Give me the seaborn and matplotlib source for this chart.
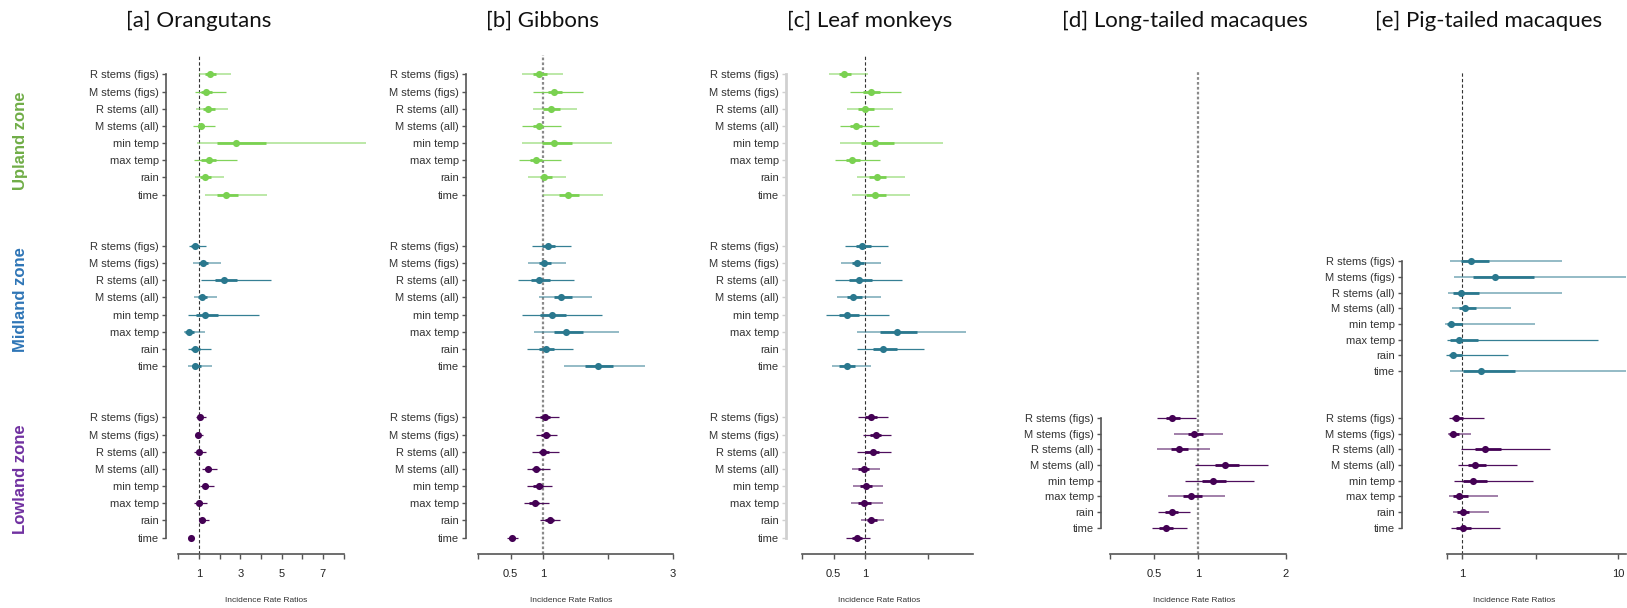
import numpy as np
import pandas as pd
import matplotlib
matplotlib.use("Agg")
import matplotlib.pyplot as plt
import seaborn as sns
from matplotlib.ticker import NullLocator

# ---------------- data ----------------
ROWS = ["R stems (figs)", "M stems (figs)", "R stems (all)", "M stems (all)",
        "min temp", "max temp", "rain", "time"]
ZONES = ["Upland zone", "Midland zone", "Lowland zone"]
TITLES = ["[a] Orangutans", "[b] Gibbons", "[c] Leaf monkeys",
          "[d] Long-tailed macaques", "[e] Pig-tailed macaques"]
XLABEL = "Incidence Rate Ratios"

# [a] Orangutans
a_up_est = [1.55, 1.36, 1.44, 1.10, 2.81, 1.47, 1.31, 2.29]
a_up_lo95 = [1.00, 0.79, 0.87, 0.72, 0.90, 0.76, 0.79, 1.28]
a_up_hi95 = [2.57, 2.33, 2.42, 1.78, 9.40, 2.84, 2.21, 4.28]
a_up_lo50 = [1.28, 1.11, 1.19, 0.95, 1.87, 1.11, 1.03, 1.87]
a_up_hi50 = [1.84, 1.65, 1.76, 1.23, 4.24, 1.84, 1.60, 2.89]

a_mid_est = [0.79, 1.19, 2.21, 1.15, 1.29, 0.51, 0.82, 0.82]
a_mid_lo95 = [0.51, 0.71, 1.11, 0.76, 0.47, 0.26, 0.47, 0.47]
a_mid_hi95 = [1.36, 2.08, 4.51, 1.87, 3.91, 1.28, 1.60, 1.63]
a_mid_lo50 = [0.60, 1.00, 1.76, 0.97, 0.87, 0.30, 0.63, 0.66]
a_mid_hi50 = [1.00, 1.44, 2.84, 1.39, 1.92, 0.76, 1.03, 1.11]

a_low_est = [1.03, 0.97, 0.98, 1.44, 1.31, 1.00, 1.16, 0.60]
a_low_lo95 = [0.84, 0.81, 0.76, 1.16, 1.03, 0.74, 0.98, 0.47]
a_low_hi95 = [1.32, 1.19, 1.32, 1.87, 1.71, 1.39, 1.47, 0.74]
a_low_lo50 = [0.93, 0.90, 0.88, 1.30, 1.18, 0.88, 1.06, 0.53]
a_low_hi50 = [1.13, 1.05, 1.10, 1.60, 1.45, 1.13, 1.27, 0.66]

# [b] Gibbons
b_up_est = [0.94, 1.17, 1.12, 0.93, 1.17, 0.89, 1.02, 1.38]
b_up_lo95 = [0.67, 0.85, 0.84, 0.68, 0.68, 0.63, 0.77, 1.00]
b_up_hi95 = [1.31, 1.61, 1.52, 1.27, 2.06, 1.27, 1.35, 1.92]
b_up_lo50 = [0.84, 1.08, 1.00, 0.85, 0.98, 0.80, 0.95, 1.24]
b_up_hi50 = [1.06, 1.29, 1.26, 1.00, 1.44, 0.99, 1.13, 1.56]

b_mid_est = [1.08, 1.01, 0.93, 1.28, 1.13, 1.36, 1.05, 1.84]
b_mid_lo95 = [0.83, 0.77, 0.61, 0.94, 0.68, 0.86, 0.76, 1.32]
b_mid_hi95 = [1.43, 1.35, 1.48, 1.76, 1.91, 2.17, 1.46, 2.57]
b_mid_lo50 = [0.98, 0.93, 0.81, 1.17, 0.96, 1.17, 0.94, 1.65]
b_mid_hi50 = [1.19, 1.12, 1.11, 1.44, 1.36, 1.61, 1.17, 2.07]

b_low_est = [1.03, 1.04, 1.00, 0.89, 0.93, 0.87, 1.10, 0.52]
b_low_lo95 = [0.87, 0.89, 0.83, 0.75, 0.76, 0.71, 0.96, 0.44]
b_low_hi95 = [1.24, 1.22, 1.24, 1.10, 1.14, 1.09, 1.26, 0.62]
b_low_lo50 = [0.96, 0.97, 0.93, 0.83, 0.85, 0.79, 1.03, 0.48]
b_low_hi50 = [1.11, 1.11, 1.09, 0.96, 1.00, 0.94, 1.17, 0.57]

# [c] Leaf monkeys
c_up_est = [0.67, 1.09, 1.00, 0.85, 1.16, 0.80, 1.19, 1.16]
c_up_lo95 = [0.43, 0.76, 0.72, 0.60, 0.60, 0.53, 0.87, 0.79]
c_up_hi95 = [1.05, 1.57, 1.44, 1.22, 2.23, 1.24, 1.64, 1.72]
c_up_lo50 = [0.58, 0.97, 0.89, 0.76, 0.93, 0.70, 1.07, 1.02]
c_up_hi50 = [0.77, 1.23, 1.14, 0.95, 1.46, 0.92, 1.33, 1.34]

c_mid_est = [0.95, 0.88, 0.90, 0.81, 0.72, 1.50, 1.29, 0.72]
c_mid_lo95 = [0.68, 0.62, 0.52, 0.55, 0.38, 0.87, 0.87, 0.48]
c_mid_hi95 = [1.37, 1.25, 1.59, 1.25, 1.38, 2.61, 1.94, 1.09]
c_mid_lo50 = [0.85, 0.79, 0.75, 0.72, 0.58, 1.24, 1.13, 0.58]
c_mid_hi50 = [1.09, 0.99, 1.11, 0.95, 0.91, 1.83, 1.50, 0.84]

c_low_est = [1.09, 1.17, 1.12, 0.98, 1.01, 0.99, 1.10, 0.87]
c_low_lo95 = [0.89, 0.97, 0.88, 0.80, 0.81, 0.78, 0.94, 0.70]
c_low_hi95 = [1.36, 1.41, 1.42, 1.23, 1.28, 1.28, 1.30, 1.08]
c_low_lo50 = [1.00, 1.08, 1.00, 0.89, 0.92, 0.89, 1.03, 0.79]
c_low_hi50 = [1.19, 1.26, 1.22, 1.07, 1.11, 1.09, 1.19, 0.95]

# [d] Long-tailed macaques (lowland only)
d_low_est = [0.71, 0.96, 0.78, 1.31, 1.17, 0.92, 0.70, 0.64]
d_low_lo95 = [0.53, 0.73, 0.54, 0.97, 0.85, 0.66, 0.55, 0.48]
d_low_hi95 = [0.98, 1.28, 1.14, 1.80, 1.64, 1.31, 0.91, 0.88]
d_low_lo50 = [0.64, 0.89, 0.69, 1.19, 1.05, 0.83, 0.63, 0.56]
d_low_hi50 = [0.80, 1.06, 0.89, 1.47, 1.32, 1.05, 0.77, 0.72]

# [e] Pig-tailed macaques (midland + lowland)
e_mid_est = [1.14, 1.63, 0.99, 1.05, 0.85, 0.95, 0.88, 1.32]
e_mid_lo95 = [0.84, 0.89, 0.81, 0.86, 0.78, 0.80, 0.79, 0.84]
e_mid_hi95 = [4.40, 14.0, 4.36, 2.05, 2.94, 7.50, 1.96, 14.0]
e_mid_lo50 = [0.99, 1.17, 0.88, 0.95, 0.80, 0.84, 0.82, 1.02]
e_mid_hi50 = [1.50, 2.90, 1.28, 1.23, 1.00, 1.26, 1.00, 2.19]

e_low_est = [0.92, 0.87, 1.41, 1.21, 1.18, 0.96, 1.01, 1.02]
e_low_lo95 = [0.83, 0.81, 0.98, 0.94, 0.89, 0.83, 0.87, 0.85]
e_low_hi95 = [1.38, 1.15, 3.66, 2.24, 2.87, 1.69, 1.50, 1.74]
e_low_lo50 = [0.86, 0.83, 1.21, 1.10, 1.02, 0.88, 0.93, 0.92]
e_low_hi50 = [1.01, 0.95, 1.77, 1.42, 1.45, 1.09, 1.11, 1.15]

# outer interval drawn light (1) or solid (0)
LIGHT_UP = [1, 0, 1, 0, 1, 0, 1, 1]
LIGHT_MID = [0, 1, 0, 1, 0, 1, 0, 1]
LIGHT_LOW = [0, 0, 0, 0, 0, 0, 0, 0]
LIGHT_C_LOW = [0, 0, 0, 1, 1, 1, 1, 0]
LIGHT_D_LOW = [0, 1, 1, 0, 0, 1, 0, 0]
LIGHT_E_MID = [1, 1, 1, 1, 1, 0, 0, 1]
LIGHT_E_LOW = [0, 1, 0, 0, 0, 1, 1, 0]

# ---------------- styling ----------------
ZONE_COLORS = {"up": "#7AD151", "mid": "#2A788E", "low": "#440154"}
ZONE_LABEL_COLORS = ["#70AD47", "#2E75B6", "#7030A0"]
ZONE_OFFSET = {"up": 0, "mid": 10, "low": 20}

sns.set_theme(style="white")
plt.rcParams['font.family'] = ['Liberation Sans', 'DejaVu Sans']

W, H = 1627, 608
fig = plt.figure(figsize=(W / 100, H / 100), dpi=100)


def add_px_axes(left, right, top, bottom):
    return fig.add_axes([left / W, 1 - bottom / H, (right - left) / W, (bottom - top) / H])


def zone_frame(est, lo95, hi95, lo50, hi50, light, zone):
    return pd.DataFrame({
        "label": ROWS, "pos": [ZONE_OFFSET[zone] + i for i in range(len(ROWS))],
        "est": est, "lo95": lo95, "hi95": hi95, "lo50": lo50, "hi50": hi50,
        "light": light,
    })


PANELS = [
    dict(title=TITLES[0], box=(166, 366, 55, 554), xlim=(-0.598, 9.087), log=False,
         xticks=[0, 1, 2, 3, 4, 5, 6, 7, 8], xticklabels=["", "1", "", "3", "", "5", "", "7", ""],
         xbounds=(0, 8), ybounds=(0, 27), ylim=(27.96, -1.137), title_x=199,
         spine="#555555", spine_lw=1.2, ref=dict(color="#333333", lw=0.8, ls=(0, (3, 2))),
         zones=[zone_frame(a_up_est, a_up_lo95, a_up_hi95, a_up_lo50, a_up_hi50, LIGHT_UP, "up"),
                zone_frame(a_mid_est, a_mid_lo95, a_mid_hi95, a_mid_lo50, a_mid_hi50, LIGHT_MID, "mid"),
                zone_frame(a_low_est, a_low_lo95, a_low_hi95, a_low_lo50, a_low_hi50, LIGHT_LOW, "low")],
         znames=["up", "mid", "low"]),
    dict(title=TITLES[1], box=(466, 677, 55, 554), xlim=(-0.185, 3.06), log=False,
         xticks=[0, 0.5, 1, 2, 3], xticklabels=["", "0.5", "1", "", "3"],
         xbounds=(0, 3), ybounds=(0, 27), ylim=(27.96, -1.137), title_x=542,
         spine="#555555", spine_lw=1.2, ref=dict(color="#8a8a8a", lw=1.6, ls=(0, (1.2, 1))),
         zones=[zone_frame(b_up_est, b_up_lo95, b_up_hi95, b_up_lo50, b_up_hi50, LIGHT_UP, "up"),
                zone_frame(b_mid_est, b_mid_lo95, b_mid_hi95, b_mid_lo50, b_mid_hi50, LIGHT_MID, "mid"),
                zone_frame(b_low_est, b_low_lo95, b_low_hi95, b_low_lo50, b_low_hi50, LIGHT_LOW, "low")],
         znames=["up", "mid", "low"]),
    dict(title=TITLES[2], box=(786, 973, 55, 554), xlim=(-0.254, 2.714), log=False,
         xticks=[0, 0.5, 1, 2], xticklabels=["", "0.5", "1", ""],
         xbounds=(0, 2.714), ybounds=(0, 27), ylim=(27.96, -1.137), title_x=870,
         spine="#d0d0d0", spine_lw=2.0, ref=dict(color="#333333", lw=0.8, ls=(0, (3, 2))),
         zones=[zone_frame(c_up_est, c_up_lo95, c_up_hi95, c_up_lo50, c_up_hi50, LIGHT_UP, "up"),
                zone_frame(c_mid_est, c_mid_lo95, c_mid_hi95, c_mid_lo50, c_mid_hi50, LIGHT_MID, "mid"),
                zone_frame(c_low_est, c_low_lo95, c_low_hi95, c_low_lo50, c_low_hi50, LIGHT_C_LOW, "low")],
         znames=["up", "mid", "low"]),
    dict(title=TITLES[3], box=(1101, 1288, 72, 554), xlim=(-0.102, 2.023), log=False,
         xticks=[0, 0.5, 1, 2], xticklabels=["", "0.5", "1", "2"],
         xbounds=(0, 2), ybounds=(20, 27), ylim=(28.69, -2.1), title_x=1185,
         spine="#555555", spine_lw=1.2, ref=dict(color="#8a8a8a", lw=1.6, ls=(0, (1.2, 1))),
         zones=[zone_frame(d_low_est, d_low_lo95, d_low_hi95, d_low_lo50, d_low_hi50, LIGHT_D_LOW, "low")],
         znames=["low"]),
    dict(title=TITLES[4], box=(1402, 1626, 72, 554), xlim=(0.4125, 11.26), log=True,
         xticks=[0.8, 1, 3, 10], xticklabels=["", "1", "", "10"],
         xbounds=(0.8, 11.26), ybounds=(10, 27), ylim=(28.69, -2.1), title_x=1489,
         spine="#555555", spine_lw=1.2, ref=dict(color="#333333", lw=0.8, ls=(0, (3, 2))),
         zones=[zone_frame(e_mid_est, e_mid_lo95, e_mid_hi95, e_mid_lo50, e_mid_hi50, LIGHT_E_MID, "mid"),
                zone_frame(e_low_est, e_low_lo95, e_low_hi95, e_low_lo50, e_low_hi50, LIGHT_E_LOW, "low")],
         znames=["mid", "low"]),
]

for p in PANELS:
    l, r, t, b = p["box"]
    ax = add_px_axes(l, r, t, b)
    ax.set_facecolor("none")
    if p["log"]:
        ax.set_xscale("log")
    ax.axvline(1, color=p["ref"]["color"], lw=p["ref"]["lw"], ls=p["ref"]["ls"], zorder=1)

    ypos, ylabs = [], []
    for df, zn in zip(p["zones"], p["znames"]):
        col = ZONE_COLORS[zn]
        for _, row in df.iterrows():
            if row["light"]:
                ax.hlines(row["pos"], row["lo95"], row["hi95"], color=col, lw=1.4, alpha=0.5, zorder=2)
            else:
                ax.hlines(row["pos"], row["lo95"], row["hi95"], color=col, lw=0.9, alpha=0.95, zorder=2)
            ax.hlines(row["pos"], row["lo50"], row["hi50"], color=col, lw=2.0, zorder=3)
        sns.scatterplot(data=df, x="est", y="pos", ax=ax, color=col, s=26,
                        linewidth=0, legend=False, zorder=4)
        ypos += list(df["pos"])
        ylabs += list(df["label"])

    ax.set_xlim(*p["xlim"])
    ax.set_ylim(*p["ylim"])
    ax.xaxis.set_minor_locator(NullLocator())
    ax.yaxis.set_minor_locator(NullLocator())
    ax.set_xticks(p["xticks"])
    ax.set_xticklabels(p["xticklabels"])
    ax.set_yticks(ypos)
    ax.set_yticklabels(ylabs)
    ax.set_xlabel("")
    ax.set_ylabel("")
    ax.grid(False)

    for s in ["top", "right"]:
        ax.spines[s].set_visible(False)
    ax.spines["left"].set_visible(True)
    ax.spines["bottom"].set_visible(True)
    ax.spines["left"].set_color(p["spine"])
    ax.spines["left"].set_linewidth(p["spine_lw"])
    ax.spines["left"].set_bounds(*p["ybounds"])
    ax.spines["bottom"].set_color("#555555")
    ax.spines["bottom"].set_linewidth(1.2)
    ax.spines["bottom"].set_bounds(*p["xbounds"])

    ax.tick_params(axis="y", which="major", left=True, length=3, width=1.0,
                   color=p["spine"], pad=2, labelsize=8, labelcolor="#333333")
    ax.tick_params(axis="x", which="major", bottom=True, length=3.8, width=1.0,
                   color="#555555", pad=7, labelsize=8, labelcolor="#222222")

    fig.text(((l + r) / 2) / W, 1 - 600 / H, XLABEL, fontsize=6, color="#333333",
             ha="center", va="center")
    fig.text(p["title_x"] / W, 1 - 21 / H, p["title"], fontsize=16,
             family=["Lato", "DejaVu Sans"], ha="center", va="center", color="#111111")

# zone labels
for name, yc, colr in zip(ZONES, [141, 300, 479], ZONE_LABEL_COLORS):
    fig.text(21 / W, 1 - yc / H, name, rotation=90, fontsize=12, fontweight="bold",
             color=colr, ha="center", va="center")

fig.savefig("out.png", dpi=100)
